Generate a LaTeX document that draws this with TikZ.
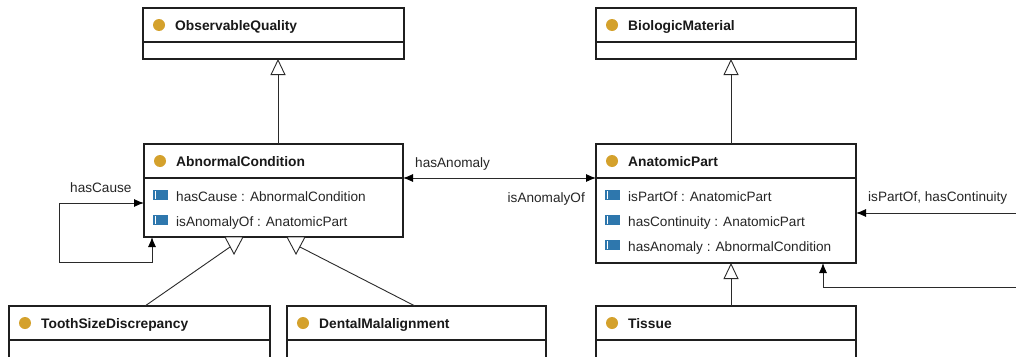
\documentclass[tikz,border=0pt]{standalone}
\usepackage{fontspec}
\setmainfont{Liberation Sans}
\usetikzlibrary{arrows.meta,calc}
\definecolor{gold}{HTML}{D4A12C}
\definecolor{attrblue}{HTML}{2E77AD}
\definecolor{edgecol}{HTML}{2A2A2A}
\tikzset{
  boxline/.style={draw=black!88, line width=1.3pt},
  classframe/.style={boxline, fill=white, inner sep=0pt, outer sep=0pt},
  titletext/.style={inner sep=0pt, font=\fontsize{13.8}{14}\selectfont\bfseries, text=black!90},
  attrtext/.style={inner sep=0pt, font=\fontsize{13.6}{14}\selectfont, text=black!85},
  lbl/.style={inner sep=0pt, font=\fontsize{13.6}{14}\selectfont, text=black!85},
  conn/.style={draw=edgecol, line width=0.9pt},
  gen/.style={conn, -{Triangle[open, length=16pt, width=15pt, line width=0.9pt]}},
  tipA/.tip={Latex[length=10pt, width=8pt, color=black]},
  hollowtri/.style={draw=edgecol, line width=0.9pt, fill=white}
}
\newcommand\classbox[7]{%
  \node[classframe, minimum width={#4-#2}, minimum height={#5-#3}, anchor=north west] (#1) at (#2,#3) {};
  \draw[boxline] (#2,#6) -- (#4,#6);
  \fill[gold] (#2+16,{(#3+#6)/2}) circle (6pt);
  \node[titletext, anchor=base west] (#1-title) at (#2+32,{(#3+#6)/2+5.5}) {#7};
}
\newcommand\attrrow[4]{%
  \fill[attrblue] (#2+9,#3-6) rectangle (#2+24,#3+4);
  \draw[white, line width=0.8pt] (#2+11,#3-5) -- (#2+11,#3+3);
  \node[attrtext, anchor=base west] (#1) at (#2+32,#3+5) {#4};
}
\begin{document}
\begin{tikzpicture}[x=1pt, y=-1pt]
\useasboundingbox (0,0) rectangle (1016,356);
\clip (0,0) rectangle (1016,356);
\fill[white] (0,0) rectangle (1016,356);

% class boxes
\classbox{oq}{143}{8}{404}{59}{42}{ObservableQuality}
\classbox{bm}{596}{8}{856}{59}{42}{BiologicMaterial}
\classbox{ac}{144}{144}{403}{237}{178}{AbnormalCondition}
\classbox{ap}{596}{144}{856}{263}{178}{AnatomicPart}
\classbox{tsd}{9}{306}{270}{380}{340}{ToothSizeDiscrepancy}
\classbox{dm}{287}{306}{546}{380}{340}{DentalMalalignment}
\classbox{ti}{596}{306}{856}{380}{340}{Tissue}

% attributes
\attrrow{ac-a1}{144}{196}{hasCause : AbnormalCondition}
\attrrow{ac-a2}{144}{221}{isAnomalyOf : AnatomicPart}
\attrrow{ap-a1}{596}{196}{isPartOf : AnatomicPart}
\attrrow{ap-a2}{596}{221}{hasContinuity : AnatomicPart}
\attrrow{ap-a3}{596}{246}{hasAnomaly : AbnormalCondition}

% generalizations
\draw[gen] (ac.north -| 278,0) -- (oq.south -| 278,0);
\draw[gen] (ap.north -| 731,0) -- (bm.south -| 731,0);
\draw[gen] (ti.north -| 731,0) -- (ap.south -| 731,0);

\coordinate (tsdend) at (230,247);
\coordinate (dmend) at (300,247);
\draw[conn] (tsd.north -| 145,0) -- (tsdend);
\draw[conn] (dm.north -| 415,0) -- (dmend);
\draw[hollowtri] (ac.south -| 225,0) -- (ac.south -| 243,0) -- (234,254) -- cycle;
\draw[hollowtri] (ac.south -| 287,0) -- (ac.south -| 305,0) -- (296,254) -- cycle;

% hasAnomaly / isAnomalyOf
\draw[conn, tipA-tipA] (ac.east |- 0,178) -- (ap.west |- 0,178);
\node[lbl, anchor=base west] (lhasAnomaly) at (415,167) {hasAnomaly};
\node[lbl, anchor=base east] (lisAnomalyOf) at (585,202) {isAnomalyOf};

% hasCause self loop
\draw[conn, tipA-tipA] (ac.south -| 152,0) -- (152,262) -- (59,262) -- (59,203) -- (ac.west |- 0,203);
\node[lbl, anchor=base west] (lhasCause) at (70,192) {hasCause};

% isPartOf, hasContinuity loop
\draw[conn, tipA-tipA] (ap.south -| 823,0) -- (823,287) -- (1030,287) -- (1030,213) -- (ap.east |- 0,213);
\node[lbl, anchor=base west] (lpart) at (868,201) {isPartOf, hasContinuity};
\end{tikzpicture}
\end{document}
